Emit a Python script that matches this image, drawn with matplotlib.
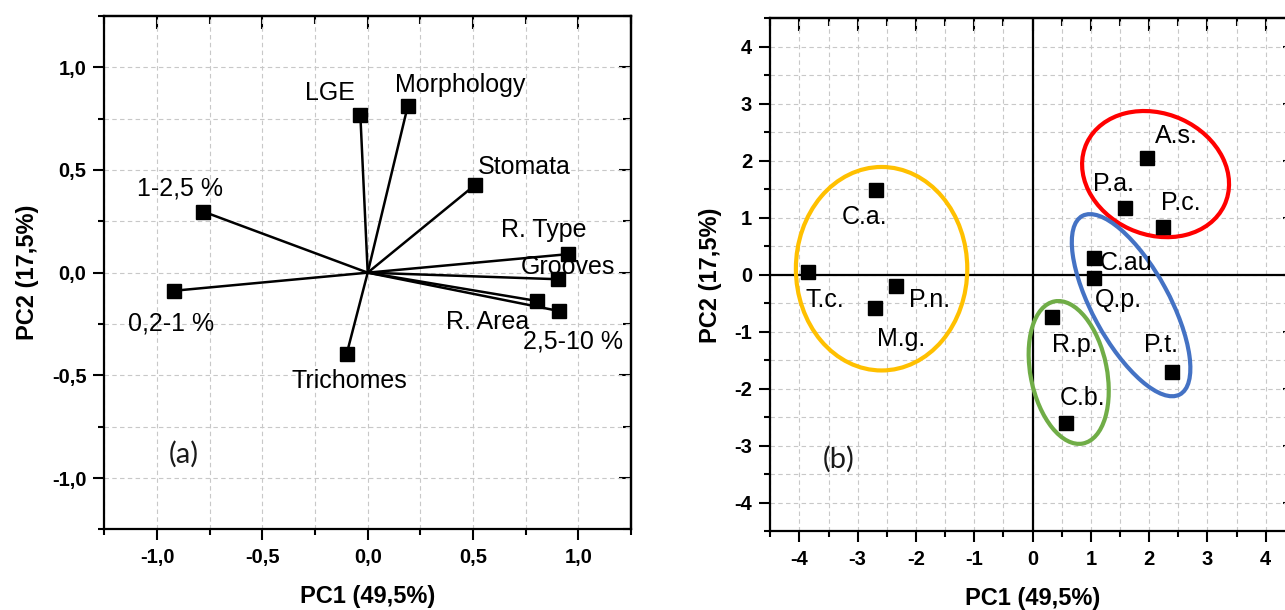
import matplotlib
matplotlib.use('Agg')
import matplotlib.pyplot as plt
from matplotlib.patches import Ellipse
from matplotlib.ticker import NullFormatter

plt.rcParams['font.family'] = ['Liberation Sans', 'DejaVu Sans']

# panel (a): loadings
var_names = ['LGE', 'Morphology', 'Stomata', 'R. Type', 'Grooves',
             'R. Area', '2,5-10 %', 'Trichomes', '0,2-1 %', '1-2,5 %']
var_pc1 = [-0.035, 0.19, 0.51, 0.95, 0.905, 0.805, 0.91, -0.10, -0.92, -0.78]
var_pc2 = [0.768, 0.81, 0.427, 0.09, -0.032, -0.138, -0.187, -0.396, -0.088, 0.297]
# where each label sits
var_lab_x = [-0.18, 0.437, 0.744, 0.834, 0.953, 0.57, 0.974, -0.088, -0.935, -0.89]
var_lab_y = [0.873, 0.914, 0.516, 0.208, 0.03, -0.24, -0.337, -0.527, -0.245, 0.41]

# panel (b): scores
sp_names = ['A.s.', 'P.a.', 'P.c.', 'C.au', 'Q.p.', 'P.t.', 'R.p.', 'C.b.',
            'C.a.', 'T.c.', 'P.n.', 'M.g.']
sp_pc1 = [1.97, 1.58, 2.24, 1.06, 1.06, 2.39, 0.34, 0.58, -2.69, -3.85, -2.34, -2.70]
sp_pc2 = [2.05, 1.17, 0.84, 0.30, -0.05, -1.70, -0.73, -2.60, 1.49, 0.06, -0.19, -0.58]
sp_lab_x = [2.46, 1.38, 2.54, 1.61, 1.47, 2.21, 0.73, 0.86, -2.89, -3.56, -1.76, -2.26]
sp_lab_y = [2.43, 1.60, 1.26, 0.21, -0.44, -1.23, -1.23, -2.16, 1.02, -0.44, -0.44, -1.13]

# group ellipses: center x, center y, width, height, angle, colour
grp_cx = [-2.59, 2.11, 1.69, 0.62]
grp_cy = [0.11, 1.77, -0.53, -1.71]
grp_w = [2.94, 2.60, 3.55, 2.54]
grp_h = [3.57, 2.12, 1.32, 1.31]
grp_ang = [0, -25, -62, -79]
grp_col = ['#FFC000', '#FF0000', '#4472C4', '#70AD47']

a_ticks = [-1.0, -0.5, 0.0, 0.5, 1.0]
a_minor = [-1.25, -0.75, -0.25, 0.25, 0.75, 1.25]
b_ticks = [-4, -3, -2, -1, 0, 1, 2, 3, 4]
b_minor = [-4.5, -3.5, -2.5, -1.5, -0.5, 0.5, 1.5, 2.5, 3.5, 4.5]


def fmt(v):
    return ('%.1f' % v).replace('.', ',')


def setup(ax, lim, major, minor, labels):
    ax.set_xlim(-lim, lim)
    ax.set_ylim(-lim, lim)
    ax.set_xticks(major, labels=labels, fontweight='bold', fontsize=14.5)
    ax.set_yticks(major, labels=labels, fontweight='bold', fontsize=14.5)
    ax.set_xticks(minor, minor=True)
    ax.set_yticks(minor, minor=True)
    ax.tick_params(which='both', direction='out', width=1.5, pad=5)
    ax.tick_params(which='major', length=8)
    ax.tick_params(which='minor', length=4)
    ax.grid(True, which='both', color='#c8c8c8', linestyle=(0, (4, 3)), linewidth=0.8)
    ax.set_axisbelow(True)
    for s in ax.spines.values():
        s.set_linewidth(1.6)
    # mirrored ticks pointing inwards on top and right
    top = ax.secondary_xaxis('top')
    right = ax.secondary_yaxis('right')
    for sec, axis in ((top, top.xaxis), (right, right.yaxis)):
        axis.set_ticks(major)
        axis.set_ticks(minor, minor=True)
        axis.set_major_formatter(NullFormatter())
        sec.tick_params(which='both', direction='in', width=1.5)
        sec.tick_params(which='major', length=9)
        sec.tick_params(which='minor', length=6)
        for s in sec.spines.values():
            s.set_linewidth(1.6)
    ax.set_xlabel('PC1 (49,5%)', fontsize=17, fontweight='bold', labelpad=13)
    ax.set_ylabel('PC2 (17,5%)', fontsize=17, fontweight='bold', labelpad=9)


fig = plt.figure(figsize=(12.85, 6.10), dpi=100)

# (a) loadings plot
ax1 = fig.add_axes([0.0813, 0.132, 0.4097, 0.842])
setup(ax1, 1.25, a_ticks, a_minor, [fmt(v) for v in a_ticks])
for x, y in zip(var_pc1, var_pc2):
    ax1.plot([0, x], [0, y], color='black', lw=1.8, zorder=3)
ax1.plot(var_pc1, var_pc2, 's', color='black', ms=9.5, zorder=4)
for name, x, y in zip(var_names, var_lab_x, var_lab_y):
    ax1.text(x, y, name, fontsize=18, ha='center', va='center', zorder=5)
ax1.text(-0.874, -0.883, '(a)', fontsize=21, family=['Lato', 'DejaVu Sans'],
         ha='center', va='center', color='#1a1a1a')

# (b) scores plot
ax2 = fig.add_axes([0.5994, 0.1287, 0.4083, 0.841])
setup(ax2, 4.5, b_ticks, b_minor, [str(v) for v in b_ticks])
ax2.axhline(0, color='black', lw=1.6, zorder=2)
ax2.axvline(0, color='black', lw=1.6, zorder=2)
for cx, cy, w, h, ang, col in zip(grp_cx, grp_cy, grp_w, grp_h, grp_ang, grp_col):
    ax2.add_patch(Ellipse((cx, cy), w, h, angle=ang, fill=False,
                          edgecolor=col, lw=3, zorder=3))
ax2.plot(sp_pc1, sp_pc2, 's', color='black', ms=9.5, zorder=4)
for name, x, y in zip(sp_names, sp_lab_x, sp_lab_y):
    ax2.text(x, y, name, fontsize=18, ha='center', va='center', zorder=5)
ax2.text(-3.33, -3.23, '(b)', fontsize=21, family=['Lato', 'DejaVu Sans'],
         ha='center', va='center', color='#1a1a1a')

fig.savefig('out.png', dpi=100)
